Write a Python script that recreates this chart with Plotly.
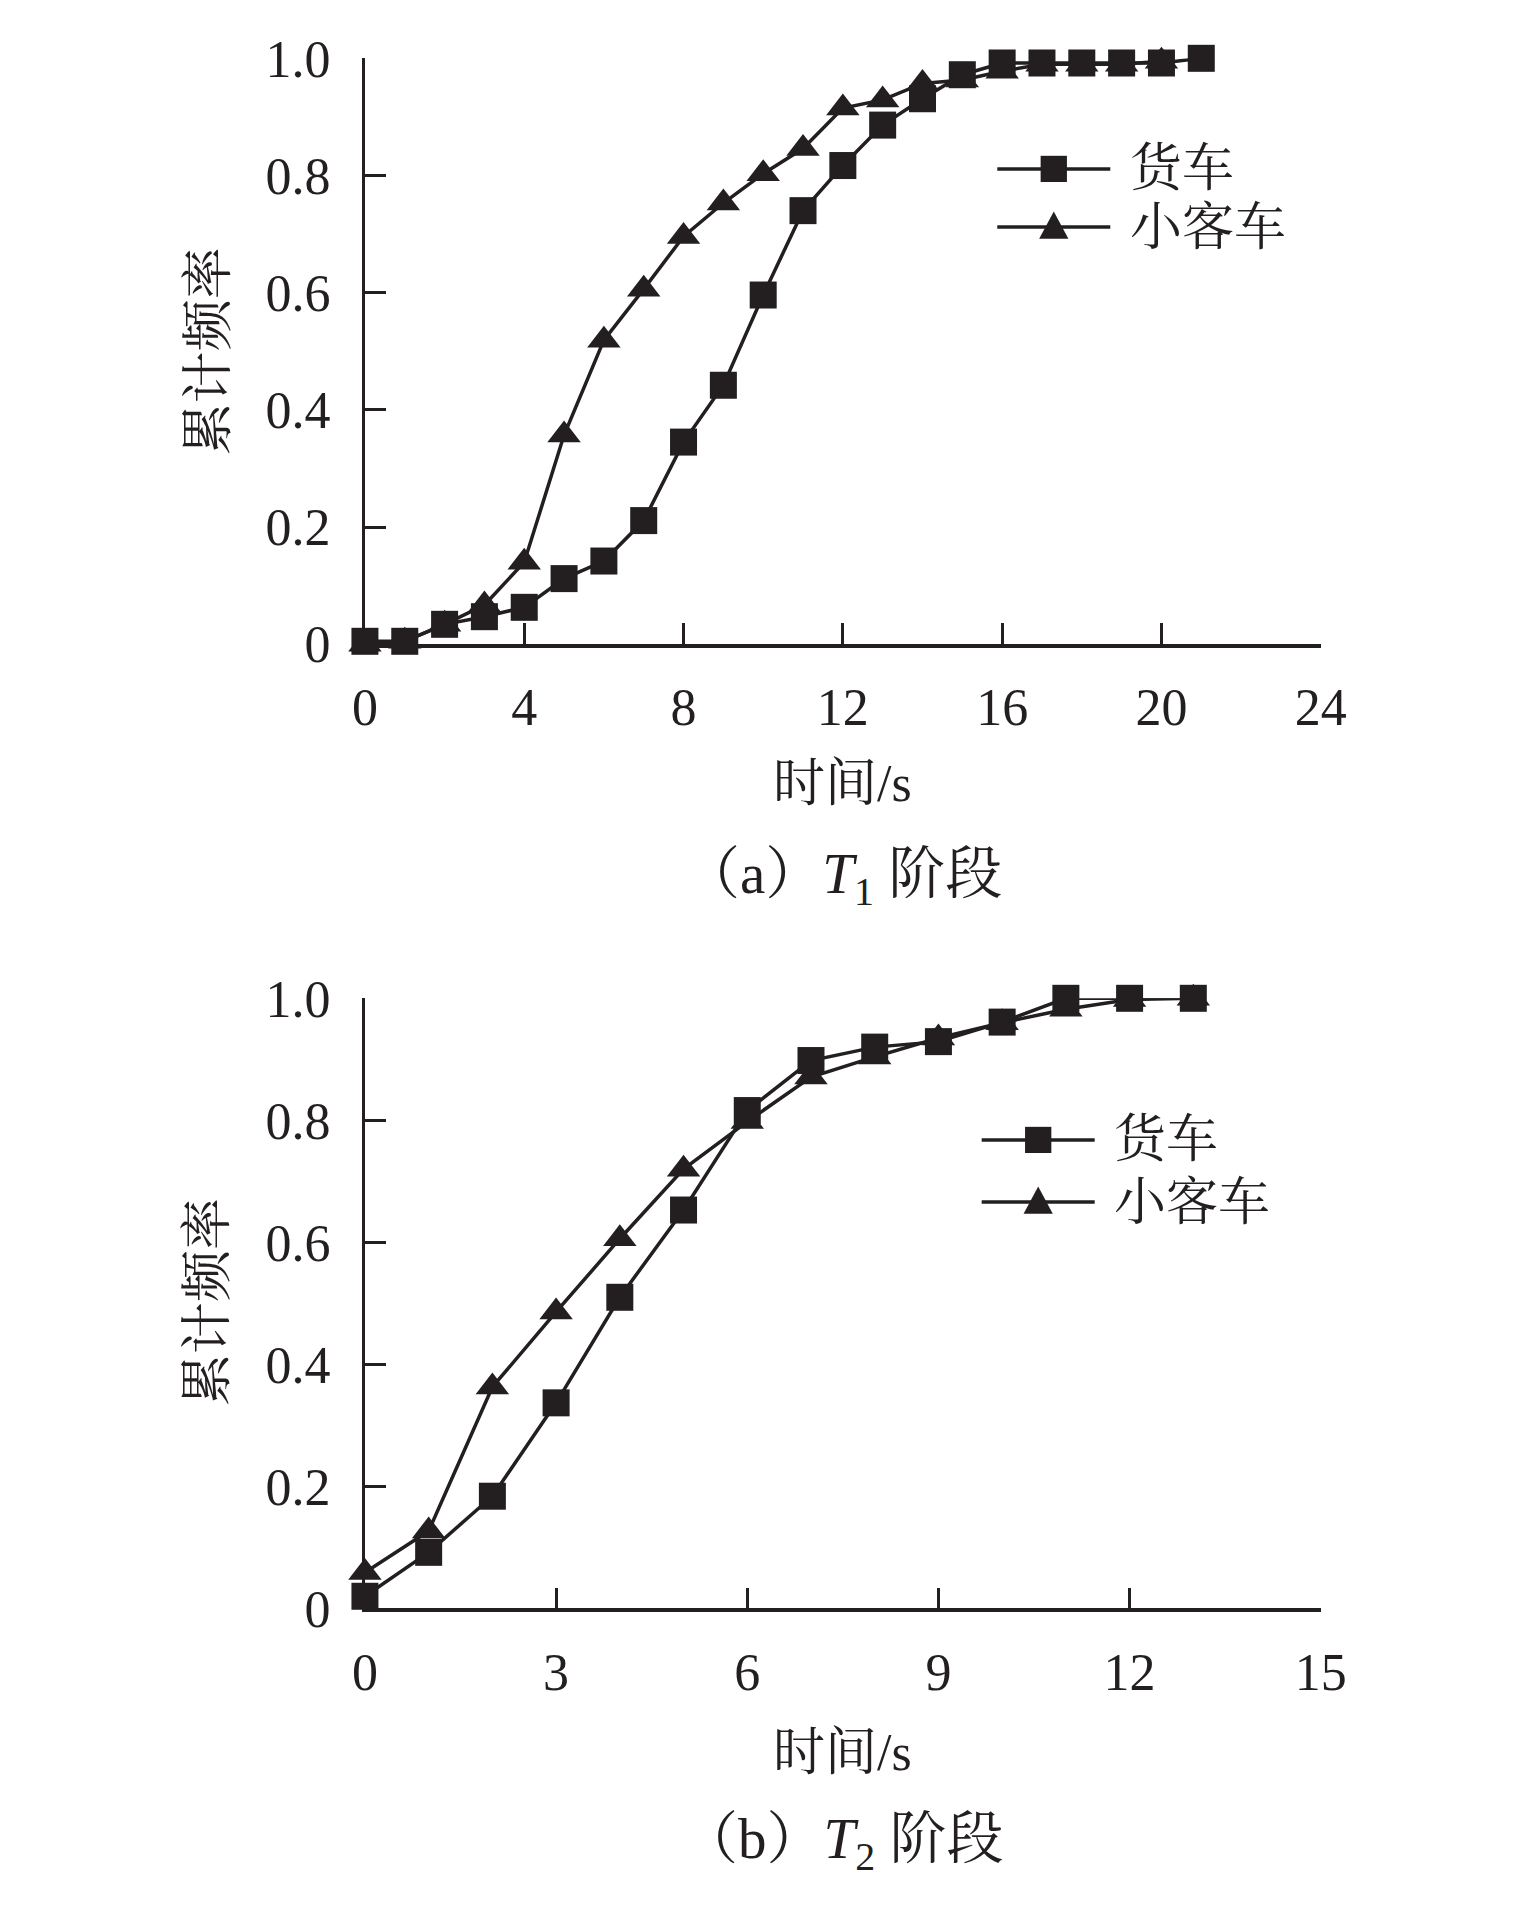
import plotly.graph_objects as go

# ---------------- data ----------------
t1_x_truck = list(range(0, 22))
t1_truck = [0.005, 0.005, 0.034, 0.047, 0.063, 0.112, 0.142, 0.211, 0.345, 0.442,
            0.596, 0.740, 0.817, 0.886, 0.931, 0.972, 0.992, 0.992, 0.992, 0.992,
            0.992, 1.0]
t1_x_car = list(range(0, 21))
t1_car = [0.0, 0.005, 0.034, 0.067, 0.140, 0.357, 0.519, 0.606, 0.696, 0.753,
          0.803, 0.846, 0.915, 0.929, 0.957, 0.963, 0.978, 0.99, 0.99, 0.99, 0.995]

t2_x = list(range(0, 14))
t2_truck = [0.020, 0.092, 0.184, 0.337, 0.510, 0.653, 0.816, 0.898, 0.920, 0.929,
            0.961, 1.0, 1.0, 1.0]
t2_car = [0.059, 0.127, 0.363, 0.486, 0.606, 0.720, 0.798, 0.871, 0.904, 0.935,
          0.960, 0.982, 0.998, 1.0]

y_tickvals = [0, 0.2, 0.4, 0.6, 0.8, 1.0]
y_ticktext = ["0", "0.2", "0.4", "0.6", "0.8", "1.0"]
t1_xticks = [0, 4, 8, 12, 16, 20, 24]
t2_xticks = [0, 3, 6, 9, 12, 15]

names = ["货车", "小客车"]
x_title = "时间/s"
y_title = "累计频率"
captions = ["（a）<i>T</i><sub>1</sub> 阶段", "（b）<i>T</i><sub>2</sub> 阶段"]

# ---------------- style ----------------
# page is 1535x1920; body has an 8px margin, so the figure is 16px smaller
M = 8
W, H = 1535 - 2 * M, 1920 - 2 * M
INK = "#231f20"
FONT = "Liberation Serif, Noto Serif CJK SC, Noto Sans CJK SC, serif"


def px(x):
    return (x - M) / W


def py(y):
    return 1 - (y - M) / H


X0, X1 = 361, 1342
panels = [
    dict(top=31, bot=635, xmax=24, xticks=t1_xticks, xa="x", ya="y",
         leg_y=(145, 205), leg_x=(1010, 1126), cap_y=876, xt_y=779, yt_y=333),
    dict(top=1000, bot=1629, xmax=15, xticks=t2_xticks, xa="x2", ya="y2",
         leg_y=(1146, 1210), leg_x=(994, 1110), cap_y=1871, xt_y=1777, yt_y=1313),
]

fig = go.Figure()

series = [
    (t1_x_truck, t1_truck, t1_x_car, t1_car),
    (t2_x, t2_truck, t2_x, t2_car),
]

for p, (xs_t, ys_t, xs_c, ys_c) in zip(panels, series):
    fig.add_trace(go.Scatter(
        x=xs_c, y=ys_c, mode="lines+markers", name=names[1],
        xaxis=p["xa"], yaxis=p["ya"], cliponaxis=False, showlegend=False,
        line=dict(color=INK, width=3.5),
        marker=dict(symbol="triangle-up", size=29, color=INK)))
    fig.add_trace(go.Scatter(
        x=xs_t, y=ys_t, mode="lines+markers", name=names[0],
        xaxis=p["xa"], yaxis=p["ya"], cliponaxis=False, showlegend=False,
        line=dict(color=INK, width=3.5),
        marker=dict(symbol="square", size=27, color=INK)))

layout = dict(width=W, height=H, margin=dict(l=0, r=0, t=0, b=0),
              paper_bgcolor="white", plot_bgcolor="white",
              font=dict(family=FONT, color=INK, size=52), showlegend=False)

shapes = []
annotations = []
for i, p in enumerate(panels):
    sfx = "" if i == 0 else "2"
    layout["xaxis" + sfx] = dict(
        domain=[px(X0), px(X1)], range=[0, p["xmax"]], anchor="y" + sfx,
        tickvals=p["xticks"], ticks="inside", ticklen=21, tickwidth=3,
        tickcolor=INK, showline=True, linewidth=3.5, linecolor=INK,
        showgrid=False, zeroline=False, ticklabelstandoff=15,
        tickfont=dict(family=FONT, size=52, color=INK))
    layout["yaxis" + sfx] = dict(
        domain=[py(p["bot"]), py(p["top"])], range=[0, 1], anchor="x" + sfx,
        tickvals=y_tickvals, ticktext=y_ticktext, ticks="inside", ticklen=21,
        tickwidth=3, tickcolor=INK, showline=True, linewidth=3, linecolor=INK,
        showgrid=False, zeroline=False, ticklabelstandoff=21,
        tickfont=dict(family=FONT, size=52, color=INK))

    # axis titles
    annotations.append(dict(text=x_title, x=px((X0 + X1) / 2), y=py(p["xt_y"]),
                            xref="paper", yref="paper", showarrow=False,
                            xanchor="center", yanchor="middle",
                            font=dict(family=FONT, size=52, color=INK)))
    annotations.append(dict(text=y_title, x=px(200), y=py(p["yt_y"]),
                            xref="paper", yref="paper", showarrow=False, textangle=-90,
                            xanchor="center", yanchor="middle",
                            font=dict(family=FONT, size=52, color=INK)))
    annotations.append(dict(text=captions[i], x=px(851), y=py(p["cap_y"]),
                            xref="paper", yref="paper", showarrow=False,
                            xanchor="center", yanchor="middle",
                            font=dict(family=FONT, size=57, color=INK)))

    # legend (drawn manually)
    lx0, lx1 = p["leg_x"]
    cx = (lx0 + lx1) / 2
    for j, ly in enumerate(p["leg_y"]):
        shapes.append(dict(type="line", xref="paper", yref="paper",
                           x0=px(lx0), x1=px(lx1), y0=py(ly), y1=py(ly),
                           line=dict(color=INK, width=3.5)))
        if j == 0:
            s = 13.5
            shapes.append(dict(type="rect", xref="paper", yref="paper",
                               x0=px(cx - s), x1=px(cx + s), y0=py(ly + s), y1=py(ly - s),
                               fillcolor=INK, line=dict(width=0)))
        else:
            path = "M {:.5f} {:.5f} L {:.5f} {:.5f} L {:.5f} {:.5f} Z".format(
                px(cx - 15), py(ly + 12), px(cx + 15), py(ly + 12), px(cx), py(ly - 16))
            shapes.append(dict(type="path", xref="paper", yref="paper", path=path,
                               fillcolor=INK, line=dict(width=0)))
        annotations.append(dict(text=names[j], x=px(lx1 + 18), y=py(ly),
                                xref="paper", yref="paper", xanchor="left",
                                yanchor="middle", showarrow=False,
                                font=dict(family=FONT, size=52, color=INK)))

layout["shapes"] = shapes
layout["annotations"] = annotations
fig.update_layout(**layout)

fig.write_html("out.html")
